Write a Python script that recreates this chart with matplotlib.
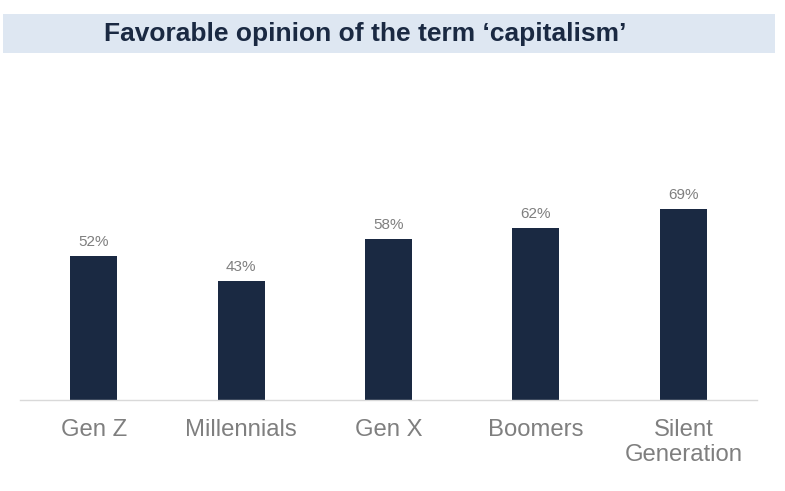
import matplotlib.pyplot as plt
from matplotlib.patches import Rectangle

# Data
generations = ["Gen Z", "Millennials", "Gen X", "Boomers", "Silent\nGeneration"]
favorable = [52, 43, 58, 62, 69]

bar_color = "#1a2942"
label_gray = "#7f7f7f"

plt.rcParams['font.family'] = ['Liberation Sans', 'DejaVu Sans']

fig = plt.figure(figsize=(7.85, 4.91), dpi=100)

# Title band
band = Rectangle((3 / 785, 1 - 53 / 491), 772 / 785, 39 / 491,
                 transform=fig.transFigure, facecolor="#dee7f2", edgecolor="none")
fig.patches.append(band)
fig.text(365 / 785, 1 - 34 / 491, "Favorable opinion of the term \u2018capitalism\u2019",
         ha="center", va="center", fontsize=19, fontweight="bold", color="#1a2942")

ax = fig.add_axes([20 / 785, 91 / 491, 737 / 785, 330 / 491])
x = range(len(generations))
bars = ax.bar(x, favorable, width=0.32, color=bar_color)

for b, v in zip(bars, favorable):
    ax.annotate(f"{v}%", (b.get_x() + b.get_width() / 2, v), xytext=(0, 5),
                textcoords="offset points", ha="center", va="bottom",
                fontsize=11, color=label_gray)

ax.set_xlim(-0.5, 4.5)
ax.set_ylim(0, 119)
ax.set_xticks(list(x))
ax.set_xticklabels(generations, fontsize=17.2, color=label_gray, linespacing=1.15)
ax.tick_params(axis="x", length=0, pad=14)
ax.set_yticks([])
for side in ["top", "right", "left"]:
    ax.spines[side].set_visible(False)
ax.spines["bottom"].set_color("#d9d9d9")
ax.spines["bottom"].set_linewidth(1)

fig.savefig("out.png", dpi=100)
